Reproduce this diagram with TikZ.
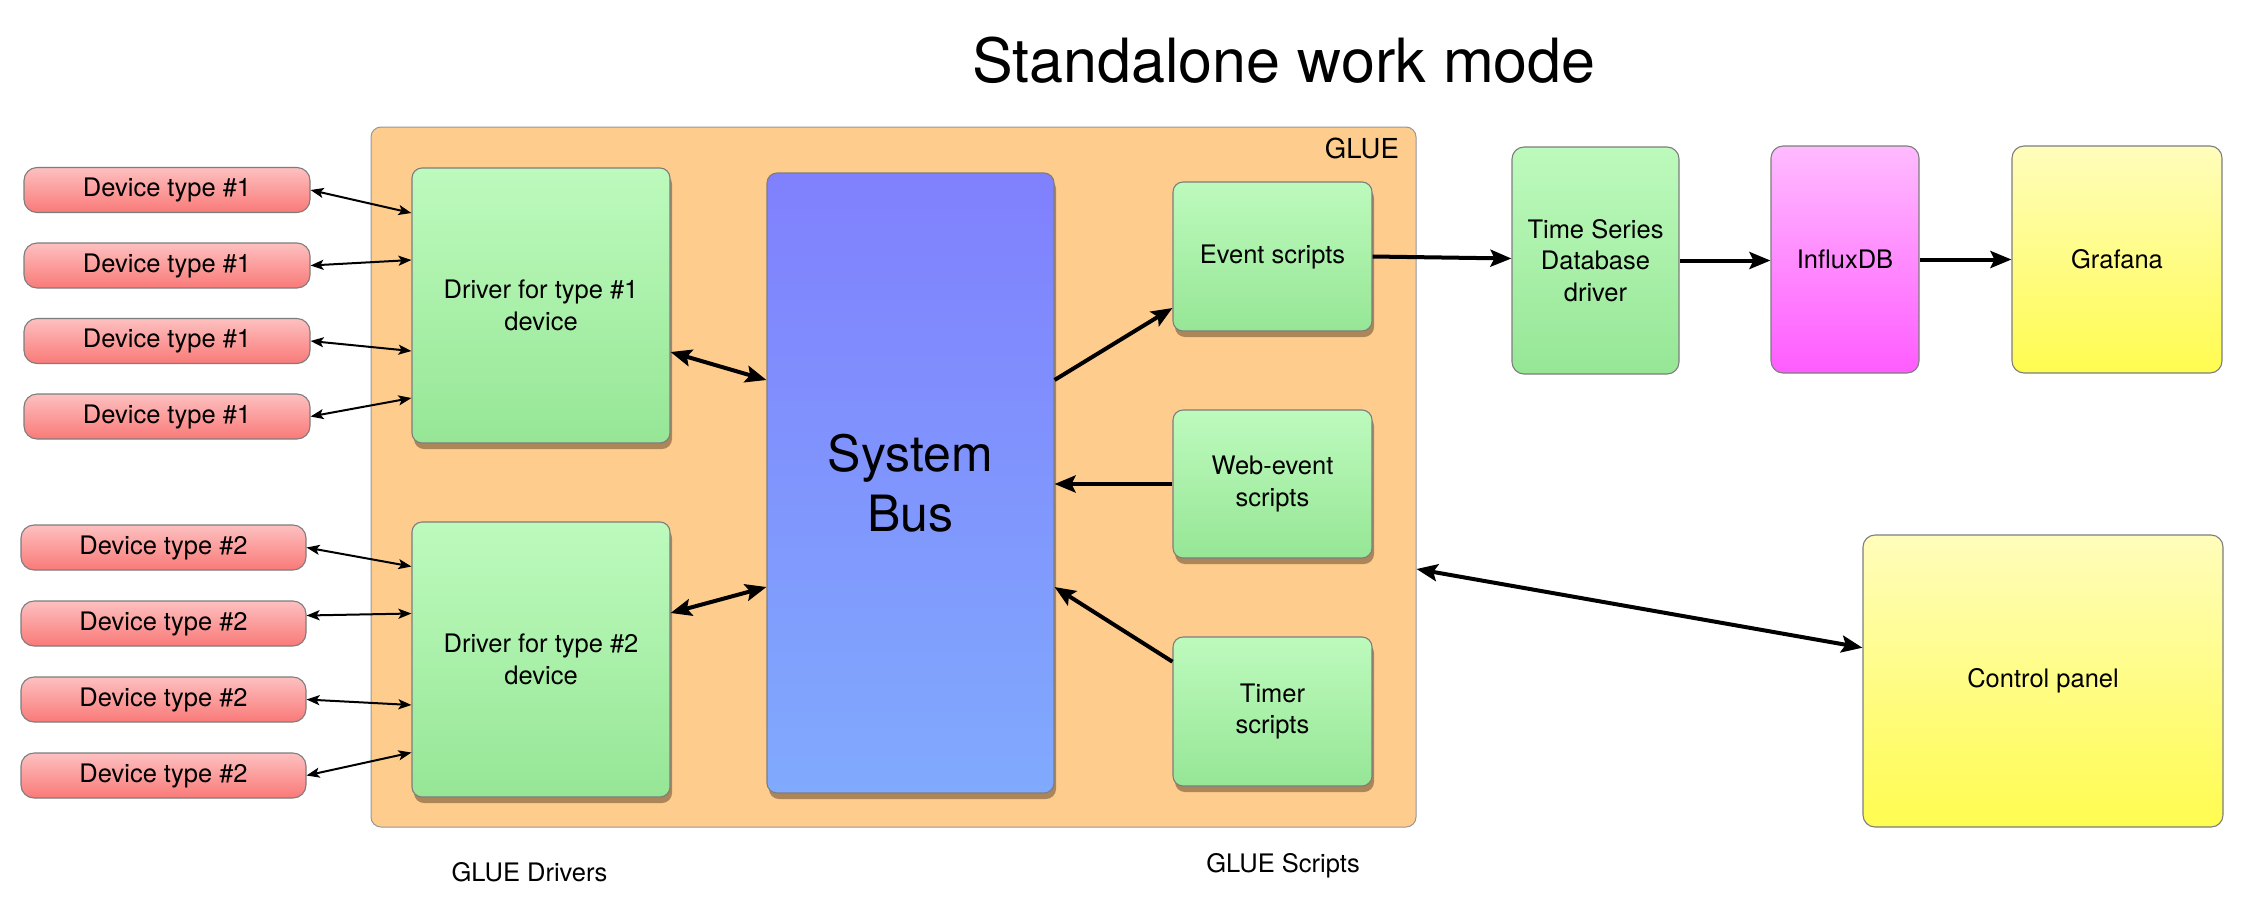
\documentclass[tikz,border=0pt]{standalone}
\usepackage{fontspec}
\setmainfont{TeX Gyre Heros}
\usetikzlibrary{arrows.meta,shadows,calc}

\definecolor{glue}{RGB}{254,205,142}
\definecolor{devtop}{RGB}{253,192,192}
\definecolor{devbot}{RGB}{249,122,120}
\definecolor{grntop}{RGB}{189,250,189}
\definecolor{grnbot}{RGB}{150,230,150}
\definecolor{bustop}{RGB}{128,128,253}
\definecolor{busbot}{RGB}{128,170,253}
\definecolor{magtop}{RGB}{255,187,255}
\definecolor{magbot}{RGB}{255,92,255}
\definecolor{yeltop}{RGB}{255,253,187}
\definecolor{yelbot}{RGB}{255,252,80}
\definecolor{edge}{RGB}{125,125,125}
\definecolor{shadowc}{RGB}{105,75,45}

\tikzset{
  lbl/.style={font=\fontsize{25.5pt}{31.5pt}\selectfont, inner sep=0pt},
  box/.style={draw=edge, line width=1.1pt, rounded corners=10pt, inner sep=0pt,
    align=center, font=\fontsize{25.5pt}{31.5pt}\selectfont},
  devbox/.style={box, rounded corners=13pt, top color=devtop, bottom color=devbot, minimum height=45pt},
  grnbox/.style={box, top color=grntop, bottom color=grnbot},
  busbox/.style={box, top color=bustop, bottom color=busbot},
  magbox/.style={box, rounded corners=12pt, top color=magtop, bottom color=magbot},
  yelbox/.style={box, rounded corners=12pt, top color=yeltop, bottom color=yelbot},
  shd/.style={drop shadow={shadow xshift=2pt, shadow yshift=-6pt, opacity=0.55, fill=shadowc}},
  thinarrow/.style={line width=2pt, arrows={Stealth[length=13pt,width=10pt,inset=3pt]-Stealth[length=13pt,width=10pt,inset=3pt]}},
  thickboth/.style={line width=4pt, arrows={Stealth[length=21pt,width=17pt,inset=4pt]-Stealth[length=21pt,width=17pt,inset=4pt]}},
  thickto/.style={line width=4pt, arrows={-Stealth[length=21pt,width=17pt,inset=4pt]}},
}

\begin{document}
\begin{tikzpicture}[x=1pt,y=-1pt]
\useasboundingbox[fill=white] (0,0) rectangle (2243,911);

% title
\node[font=\fontsize{61pt}{73pt}\selectfont, inner sep=0pt] (title) at (1284,60) {Standalone work mode};

% GLUE container
\node[draw=edge!80, line width=1pt, fill=glue, rounded corners=10pt,
      minimum width=1045pt, minimum height=700pt, inner sep=0pt] (glue) at (893.5,477) {};
\node[anchor=base east, font=\fontsize{27.5pt}{33pt}\selectfont, inner sep=0pt] (gluelbl) at (1399,158) {GLUE};

% devices
\node[devbox, minimum width=286pt] (a1) at (167,190) {Device type \#1};
\node[devbox, minimum width=286pt] (a2) at (167,265.5) {Device type \#1};
\node[devbox, minimum width=286pt] (a3) at (167,341) {Device type \#1};
\node[devbox, minimum width=286pt] (a4) at (167,416.5) {Device type \#1};
\node[devbox, minimum width=285pt] (b1) at (163.5,547.5) {Device type \#2};
\node[devbox, minimum width=285pt] (b2) at (163.5,623.5) {Device type \#2};
\node[devbox, minimum width=285pt] (b3) at (163.5,699.5) {Device type \#2};
\node[devbox, minimum width=285pt] (b4) at (163.5,775.5) {Device type \#2};

% drivers
\node[grnbox, shd, minimum width=258pt, minimum height=275pt] (d1) at (541,305.5) {Driver for type \#1\\device};
\node[grnbox, shd, minimum width=258pt, minimum height=275pt] (d2) at (541,659.5) {Driver for type \#2\\device};

% system bus
\node[busbox, shd, minimum width=287pt, minimum height=620pt,
      font=\fontsize{50pt}{60pt}\selectfont] (bus) at (910.5,483) {System\\Bus};

% scripts
\node[grnbox, shd, minimum width=199pt, minimum height=149pt] (ev) at (1272.5,256.5) {Event scripts};
\node[grnbox, shd, minimum width=199pt, minimum height=148pt] (web) at (1272.5,484) {Web-event\\scripts};
\node[grnbox, shd, minimum width=199pt, minimum height=149pt] (tim) at (1272.5,711.5) {Timer\\scripts};

% external
\node[grnbox, rounded corners=12pt, minimum width=167pt, minimum height=227pt] (tsdb) at (1595.5,260.5) {Time Series\\Database\\driver};
\node[magbox, minimum width=148pt, minimum height=227pt] (influx) at (1845,259.5) {InfluxDB};
\node[yelbox, minimum width=210pt, minimum height=227pt] (graf) at (2117,259.5) {Grafana};
\node[yelbox, minimum width=360pt, minimum height=292pt] (ctrl) at (2043,681) {Control panel};

% bottom labels
\node[lbl, anchor=base] (gdrv) at (529.5,881) {GLUE Drivers};
\node[lbl, anchor=base] (gscr) at (1283,872) {GLUE Scripts};

% device arrows
\draw[thinarrow] (a1.east) -- ([yshift=92.5pt]d1.west);
\draw[thinarrow] (a2.east) -- ([yshift=45.5pt]d1.west);
\draw[thinarrow] (a3.east) -- ([yshift=-45.5pt]d1.west);
\draw[thinarrow] (a4.east) -- ([yshift=-92.5pt]d1.west);
\draw[thinarrow] (b1.east) -- ([yshift=93pt]d2.west);
\draw[thinarrow] ([yshift=8pt]b2.east) -- ([yshift=46pt]d2.west);
\draw[thinarrow] (b3.east) -- ([yshift=-45.5pt]d2.west);
\draw[thinarrow] (b4.east) -- ([yshift=-93pt]d2.west);

% driver <-> bus
\draw[thickboth] ([yshift=-46.5pt]d1.east) -- ([yshift=103pt]bus.west);
\draw[thickboth] ([yshift=46.5pt]d2.east) -- ([yshift=-104pt]bus.west);

% bus <-> scripts
\draw[thickto] ([yshift=103pt]bus.east) -- ([yshift=-51.5pt]ev.west);
\draw[thickto] (web.west) -- (web.west -| bus.east);
\draw[thickto] ([yshift=49.8pt]tim.west) -- ([yshift=-104pt]bus.east);

% pipeline
\draw[thickto] (ev.east) -- ([yshift=2pt]tsdb.west);
\draw[thickto] (tsdb.east) -- (tsdb.east -| influx.west);
\draw[thickto] (influx.east) -- (influx.east -| graf.west);

% control panel
\draw[thickboth] ([yshift=33.3pt]ctrl.west) -- ([yshift=-92pt]glue.east);
\end{tikzpicture}
\end{document}
